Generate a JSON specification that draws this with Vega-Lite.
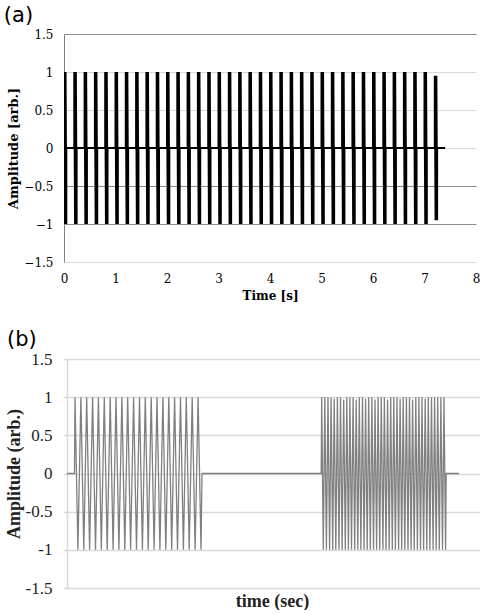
{
"$schema": "https://vega.github.io/schema/vega-lite/v6.json",
"background": "white",
"padding": {"left": 3, "top": 5, "right": 0, "bottom": 0},
"spacing": 28,
"config": {"view": {"stroke": null}, "title": {"anchor": "start", "frame": "bounds", "font": "DejaVu Sans", "fontSize": 21, "fontWeight": "normal", "color": "#000"}},
"datasets": {
"a": [
{"t":0,"a":0},{"t":0,"a":1},{"t":0.015,"a":-1},{"t":0.03,"a":1},{"t":0.045,"a":-1},{"t":0.045,"a":0},
{"t":0.2,"a":0},{"t":0.2,"a":1},{"t":0.215,"a":-1},{"t":0.23,"a":1},{"t":0.245,"a":-1},{"t":0.245,"a":0},
{"t":0.4,"a":0},{"t":0.4,"a":1},{"t":0.415,"a":-1},{"t":0.43,"a":1},{"t":0.445,"a":-1},{"t":0.445,"a":0},
{"t":0.6,"a":0},{"t":0.6,"a":1},{"t":0.615,"a":-1},{"t":0.63,"a":1},{"t":0.645,"a":-1},{"t":0.645,"a":0},
{"t":0.8,"a":0},{"t":0.8,"a":1},{"t":0.815,"a":-1},{"t":0.83,"a":1},{"t":0.845,"a":-1},{"t":0.845,"a":0},
{"t":1,"a":0},{"t":1,"a":1},{"t":1.015,"a":-1},{"t":1.03,"a":1},{"t":1.045,"a":-1},{"t":1.045,"a":0},
{"t":1.2,"a":0},{"t":1.2,"a":1},{"t":1.215,"a":-1},{"t":1.23,"a":1},{"t":1.245,"a":-1},{"t":1.245,"a":0},
{"t":1.4,"a":0},{"t":1.4,"a":1},{"t":1.415,"a":-1},{"t":1.43,"a":1},{"t":1.445,"a":-1},{"t":1.445,"a":0},
{"t":1.6,"a":0},{"t":1.6,"a":1},{"t":1.615,"a":-1},{"t":1.63,"a":1},{"t":1.645,"a":-1},{"t":1.645,"a":0},
{"t":1.8,"a":0},{"t":1.8,"a":1},{"t":1.815,"a":-1},{"t":1.83,"a":1},{"t":1.845,"a":-1},{"t":1.845,"a":0},
{"t":2,"a":0},{"t":2,"a":1},{"t":2.015,"a":-1},{"t":2.03,"a":1},{"t":2.045,"a":-1},{"t":2.045,"a":0},
{"t":2.2,"a":0},{"t":2.2,"a":1},{"t":2.215,"a":-1},{"t":2.23,"a":1},{"t":2.245,"a":-1},{"t":2.245,"a":0},
{"t":2.4,"a":0},{"t":2.4,"a":1},{"t":2.415,"a":-1},{"t":2.43,"a":1},{"t":2.445,"a":-1},{"t":2.445,"a":0},
{"t":2.6,"a":0},{"t":2.6,"a":1},{"t":2.615,"a":-1},{"t":2.63,"a":1},{"t":2.645,"a":-1},{"t":2.645,"a":0},
{"t":2.8,"a":0},{"t":2.8,"a":1},{"t":2.815,"a":-1},{"t":2.83,"a":1},{"t":2.845,"a":-1},{"t":2.845,"a":0},
{"t":3,"a":0},{"t":3,"a":1},{"t":3.015,"a":-1},{"t":3.03,"a":1},{"t":3.045,"a":-1},{"t":3.045,"a":0},
{"t":3.2,"a":0},{"t":3.2,"a":1},{"t":3.215,"a":-1},{"t":3.23,"a":1},{"t":3.245,"a":-1},{"t":3.245,"a":0},
{"t":3.4,"a":0},{"t":3.4,"a":1},{"t":3.415,"a":-1},{"t":3.43,"a":1},{"t":3.445,"a":-1},{"t":3.445,"a":0},
{"t":3.6,"a":0},{"t":3.6,"a":1},{"t":3.615,"a":-1},{"t":3.63,"a":1},{"t":3.645,"a":-1},{"t":3.645,"a":0},
{"t":3.8,"a":0},{"t":3.8,"a":1},{"t":3.815,"a":-1},{"t":3.83,"a":1},{"t":3.845,"a":-1},{"t":3.845,"a":0},
{"t":4,"a":0},{"t":4,"a":1},{"t":4.015,"a":-1},{"t":4.03,"a":1},{"t":4.045,"a":-1},{"t":4.045,"a":0},
{"t":4.2,"a":0},{"t":4.2,"a":1},{"t":4.215,"a":-1},{"t":4.23,"a":1},{"t":4.245,"a":-1},{"t":4.245,"a":0},
{"t":4.4,"a":0},{"t":4.4,"a":1},{"t":4.415,"a":-1},{"t":4.43,"a":1},{"t":4.445,"a":-1},{"t":4.445,"a":0},
{"t":4.6,"a":0},{"t":4.6,"a":1},{"t":4.615,"a":-1},{"t":4.63,"a":1},{"t":4.645,"a":-1},{"t":4.645,"a":0},
{"t":4.8,"a":0},{"t":4.8,"a":1},{"t":4.815,"a":-1},{"t":4.83,"a":1},{"t":4.845,"a":-1},{"t":4.845,"a":0},
{"t":5,"a":0},{"t":5,"a":1},{"t":5.015,"a":-1},{"t":5.03,"a":1},{"t":5.045,"a":-1},{"t":5.045,"a":0},
{"t":5.2,"a":0},{"t":5.2,"a":1},{"t":5.215,"a":-1},{"t":5.23,"a":1},{"t":5.245,"a":-1},{"t":5.245,"a":0},
{"t":5.4,"a":0},{"t":5.4,"a":1},{"t":5.415,"a":-1},{"t":5.43,"a":1},{"t":5.445,"a":-1},{"t":5.445,"a":0},
{"t":5.6,"a":0},{"t":5.6,"a":1},{"t":5.615,"a":-1},{"t":5.63,"a":1},{"t":5.645,"a":-1},{"t":5.645,"a":0},
{"t":5.8,"a":0},{"t":5.8,"a":1},{"t":5.815,"a":-1},{"t":5.83,"a":1},{"t":5.845,"a":-1},{"t":5.845,"a":0},
{"t":6,"a":0},{"t":6,"a":1},{"t":6.015,"a":-1},{"t":6.03,"a":1},{"t":6.045,"a":-1},{"t":6.045,"a":0},
{"t":6.2,"a":0},{"t":6.2,"a":1},{"t":6.215,"a":-1},{"t":6.23,"a":1},{"t":6.245,"a":-1},{"t":6.245,"a":0},
{"t":6.4,"a":0},{"t":6.4,"a":1},{"t":6.415,"a":-1},{"t":6.43,"a":1},{"t":6.445,"a":-1},{"t":6.445,"a":0},
{"t":6.6,"a":0},{"t":6.6,"a":1},{"t":6.615,"a":-1},{"t":6.63,"a":1},{"t":6.645,"a":-1},{"t":6.645,"a":0},
{"t":6.8,"a":0},{"t":6.8,"a":1},{"t":6.815,"a":-1},{"t":6.83,"a":1},{"t":6.845,"a":-1},{"t":6.845,"a":0},
{"t":7,"a":0},{"t":7,"a":1},{"t":7.015,"a":-1},{"t":7.03,"a":1},{"t":7.045,"a":-1},{"t":7.045,"a":0},
{"t":7.2,"a":0},{"t":7.2,"a":0.95},{"t":7.215,"a":-0.95},{"t":7.23,"a":0.95},{"t":7.245,"a":-0.95},{"t":7.245,"a":0},
{"t":7.4,"a":0}
],
"b": [
{"t":0.03,"a":0},{"t":0.105,"a":0},
{"t":0.110,"a":1},{"t":0.139,"a":-1},{"t":0.169,"a":1},{"t":0.198,"a":-1},{"t":0.227,"a":1},{"t":0.256,"a":-1},{"t":0.286,"a":1},{"t":0.315,"a":-1},
{"t":0.344,"a":1},{"t":0.373,"a":-1},{"t":0.403,"a":1},{"t":0.432,"a":-1},{"t":0.462,"a":1},{"t":0.491,"a":-1},{"t":0.520,"a":1},{"t":0.549,"a":-1},
{"t":0.579,"a":1},{"t":0.608,"a":-1},{"t":0.637,"a":1},{"t":0.666,"a":-1},{"t":0.696,"a":1},{"t":0.725,"a":-1},{"t":0.755,"a":1},{"t":0.784,"a":-1},
{"t":0.813,"a":1},{"t":0.842,"a":-1},{"t":0.872,"a":1},{"t":0.901,"a":-1},{"t":0.930,"a":1},{"t":0.959,"a":-1},{"t":0.989,"a":1},{"t":1.018,"a":-1},
{"t":1.048,"a":1},{"t":1.077,"a":-1},{"t":1.106,"a":1},{"t":1.135,"a":-1},{"t":1.165,"a":1},{"t":1.194,"a":-1},{"t":1.223,"a":1},{"t":1.252,"a":-1},
{"t":1.282,"a":1},{"t":1.311,"a":-1},{"t":1.341,"a":1},{"t":1.370,"a":-1},
{"t":1.38,"a":0},{"t":2.572,"a":0},
{"t":2.577,"a":1},{"t":2.593,"a":-1},{"t":2.608,"a":1},{"t":2.624,"a":-1},{"t":2.640,"a":1},{"t":2.656,"a":-1},{"t":2.671,"a":1},{"t":2.687,"a":-1},
{"t":2.702,"a":0.98},{"t":2.718,"a":-1},{"t":2.734,"a":1},{"t":2.750,"a":-1},{"t":2.765,"a":1},{"t":2.781,"a":-1},{"t":2.797,"a":0.97},{"t":2.813,"a":-1},
{"t":2.828,"a":1},{"t":2.844,"a":-1},{"t":2.859,"a":1},{"t":2.875,"a":-1},{"t":2.891,"a":1},{"t":2.907,"a":-1},{"t":2.922,"a":0.97},{"t":2.938,"a":-1},
{"t":2.953,"a":1},{"t":2.969,"a":-1},{"t":2.985,"a":1},{"t":3.001,"a":-1},{"t":3.016,"a":0.98},{"t":3.032,"a":-1},{"t":3.047,"a":1},{"t":3.063,"a":-1},
{"t":3.079,"a":1},{"t":3.095,"a":-1},{"t":3.110,"a":0.97},{"t":3.126,"a":-1},{"t":3.141,"a":1},{"t":3.157,"a":-1},{"t":3.173,"a":1},{"t":3.189,"a":-1},
{"t":3.204,"a":1},{"t":3.220,"a":-1},{"t":3.236,"a":0.97},{"t":3.252,"a":-1},{"t":3.267,"a":1},{"t":3.283,"a":-1},{"t":3.298,"a":1},{"t":3.314,"a":-1},
{"t":3.330,"a":1},{"t":3.346,"a":-1},{"t":3.361,"a":0.98},{"t":3.377,"a":-1},{"t":3.392,"a":1},{"t":3.408,"a":-1},{"t":3.424,"a":1},{"t":3.440,"a":-1},
{"t":3.455,"a":1},{"t":3.471,"a":-1},{"t":3.486,"a":0.97},{"t":3.502,"a":-1},{"t":3.518,"a":1},{"t":3.534,"a":-1},{"t":3.549,"a":1},{"t":3.565,"a":-1},
{"t":3.580,"a":1},{"t":3.596,"a":-1},{"t":3.612,"a":0.98},{"t":3.628,"a":-1},{"t":3.643,"a":1},{"t":3.659,"a":-1},{"t":3.675,"a":1},{"t":3.691,"a":-1},
{"t":3.706,"a":1},{"t":3.722,"a":-1},{"t":3.737,"a":1},{"t":3.753,"a":-1},{"t":3.769,"a":1},{"t":3.785,"a":-1},{"t":3.800,"a":1},{"t":3.816,"a":-1},
{"t":3.822,"a":0},{"t":3.95,"a":0}
]
},
"vconcat": [
{
"title": {"text": "(a)", "offset": 2, "dx": -4},
"width": 412, "height": 228,
"data": {"name": "a"},
"mark": {"type": "line", "color": "#000", "strokeWidth": 2, "clip": true},
"encoding": {
"x": {"field": "t", "type": "quantitative", "scale": {"domain": [0, 8], "nice": false},
 "axis": {"values": [0,1,2,3,4,5,6,7,8], "title": "Time [s]", "grid": false, "domain": false, "ticks": false, "labelFlush": false,
  "labelFont": "DejaVu Serif", "labelFontSize": 12, "labelColor": "#000", "labelPadding": 11,
  "titleFont": "DejaVu Serif", "titleFontSize": 12, "titleFontWeight": "bold", "titleColor": "#000", "titlePadding": 6}},
"y": {"field": "a", "type": "quantitative", "scale": {"domain": [-1.5, 1.5], "nice": false},
 "axis": {"values": [-1.5,-1,-0.5,0,0.5,1,1.5], "format": "~g", "title": "Amplitude [arb.]", "grid": true,
  "gridColor": {"condition": {"test": "datum.value == 1.5 || datum.value == -0.5 || datum.value == -1", "value": "#8c8c8c"}, "value": "#d9d9d9"},
  "domainColor": "#808080", "ticks": false, "labelPadding": 11,
  "labelFont": "DejaVu Serif", "labelFontSize": 12, "labelColor": "#000",
  "titleFont": "DejaVu Serif", "titleFontSize": 13, "titleFontWeight": "bold", "titleColor": "#000", "titlePadding": 3}},
"order": {"value": null}
}
},
{
"title": {"text": "(b)", "offset": 0, "dx": 2},
"width": 416, "height": 229,
"data": {"name": "b"},
"mark": {"type": "line", "color": "#808080", "strokeWidth": 1.3, "clip": true},
"encoding": {
"x": {"field": "t", "type": "quantitative", "scale": {"domain": [0, 4.16], "nice": false},
 "axis": {"title": "time (sec)", "labels": false, "ticks": false, "domain": false, "grid": false,
  "titleFont": "Liberation Serif", "titleFontSize": 18, "titleFontWeight": "bold", "titleColor": "#222", "titlePadding": 4}},
"y": {"field": "a", "type": "quantitative", "scale": {"domain": [-1.5, 1.5], "nice": false},
 "axis": {"values": [-1.5,-1,-0.5,0,0.5,1,1.5], "labelExpr": "'' + datum.value", "title": "Amplitude (arb.)", "offset": -3,
  "grid": true, "gridColor": "#d9d9d9", "gridWidth": 1.5, "domainColor": "#d9d9d9", "domainWidth": 1.5,
  "ticks": true, "tickColor": "#d9d9d9", "tickSize": 3, "tickWidth": 1.5, "labelPadding": 12,
  "labelFont": "Liberation Serif", "labelFontSize": 17, "labelColor": "#222",
  "titleFont": "Liberation Serif", "titleFontSize": 18, "titleFontWeight": "bold", "titleColor": "#222", "titlePadding": 2}},
"order": {"value": null}
}
}
]
}
